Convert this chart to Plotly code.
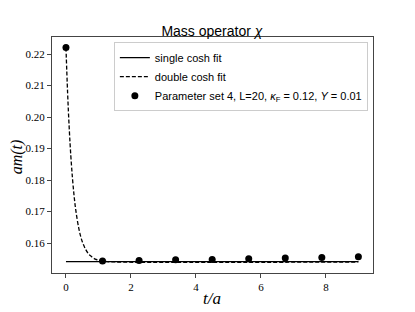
import plotly.graph_objects as go

# data points (t/a, am(t))
t_data = [0.0, 1.125, 2.25, 3.375, 4.5, 5.625, 6.75, 7.875, 9.0]
m_data = [0.2221, 0.1543, 0.15449, 0.15472, 0.15481, 0.15503, 0.15525, 0.15544, 0.15566]
m_err = [0.0002, 0.0001, 0.0001, 0.0001, 0.0001, 0.0001, 0.0001, 0.0001, 0.0001]

# single cosh fit (flat)
t_single = [0.0, 9.0]
m_single = [0.1541, 0.1541]

# double cosh fit
t_double = [0.0, 0.05, 0.1, 0.15, 0.2, 0.25, 0.3, 0.4, 0.5, 0.6, 0.7, 0.8, 0.9, 1.0, 1.2, 1.5, 9.0]
m_double = [0.2221, 0.2077, 0.1965, 0.1876, 0.1806, 0.1750, 0.1706, 0.1644, 0.1605, 0.1581,
            0.1565, 0.1556, 0.1549, 0.1546, 0.1542, 0.1540, 0.1540]

x_ticks = [0, 2, 4, 6, 8]
y_ticks = [0.16, 0.17, 0.18, 0.19, 0.20, 0.21, 0.22]

SERIF = "Liberation Serif"
SANS = "Liberation Sans"

fig = go.Figure()
fig.add_trace(go.Scatter(x=t_single, y=m_single, mode="lines", name="single cosh fit",
                         line=dict(color="black", width=1.3)))
fig.add_trace(go.Scatter(x=t_double, y=m_double, mode="lines", name="double cosh fit",
                         line=dict(color="black", width=1.3, dash="4px,2px", shape="spline")))
fig.add_trace(go.Scatter(x=t_data, y=m_data, mode="markers",
                         name="Parameter set 4, L=20, <i>κ</i><sub>F</sub> = 0.12, <i>Y</i> = 0.01",
                         marker=dict(color="black", size=7),
                         error_y=dict(type="data", array=m_err, color="black", thickness=1.5, width=0)))

# the page body adds an 8px offset, so the figure is sized to fit the window
fig.update_layout(
    width=407, height=304,
    margin=dict(l=44, r=42, t=29, b=39),
    paper_bgcolor="white", plot_bgcolor="white",
    title=dict(text="Mass operator <i>χ</i>", x=0.501, xanchor="center", y=0.908, yanchor="bottom",
               font=dict(family=SANS, size=14, color="black")),
    legend=dict(x=0.984, y=0.978, xanchor="right", yanchor="top",
                bordercolor="#cccccc", borderwidth=1, bgcolor="white",
                font=dict(family=SANS, size=11, color="black"),
                tracegroupgap=0, itemwidth=30),
    showlegend=True,
    annotations=[
        dict(text="<i>am(t)</i>", xref="paper", yref="paper", x=-0.109, y=0.49,
             xanchor="center", yanchor="middle", textangle=-90, showarrow=False,
             font=dict(family=SERIF, size=16, color="black")),
        dict(text="<i>t/a</i>", xref="paper", yref="paper", x=0.498, y=-0.11,
             xanchor="center", yanchor="middle", showarrow=False,
             font=dict(family=SERIF, size=17, color="black")),
    ],
)
fig.update_xaxes(range=[-0.43, 9.45], tickvals=x_ticks, ticks="outside", ticklen=4,
                 showline=True, linecolor="#444444", linewidth=1.2, mirror=True,
                 showgrid=False, zeroline=False, automargin=False,
                 tickfont=dict(family=SERIF, size=11, color="black"))
fig.update_yaxes(range=[0.1505, 0.2254], tickvals=y_ticks, tickformat=".2f", ticks="outside", ticklen=4,
                 showline=True, linecolor="#444444", linewidth=1.2, mirror=True,
                 showgrid=False, zeroline=False, automargin=False,
                 tickfont=dict(family=SERIF, size=11, color="black"))

fig.write_html("out.html")
